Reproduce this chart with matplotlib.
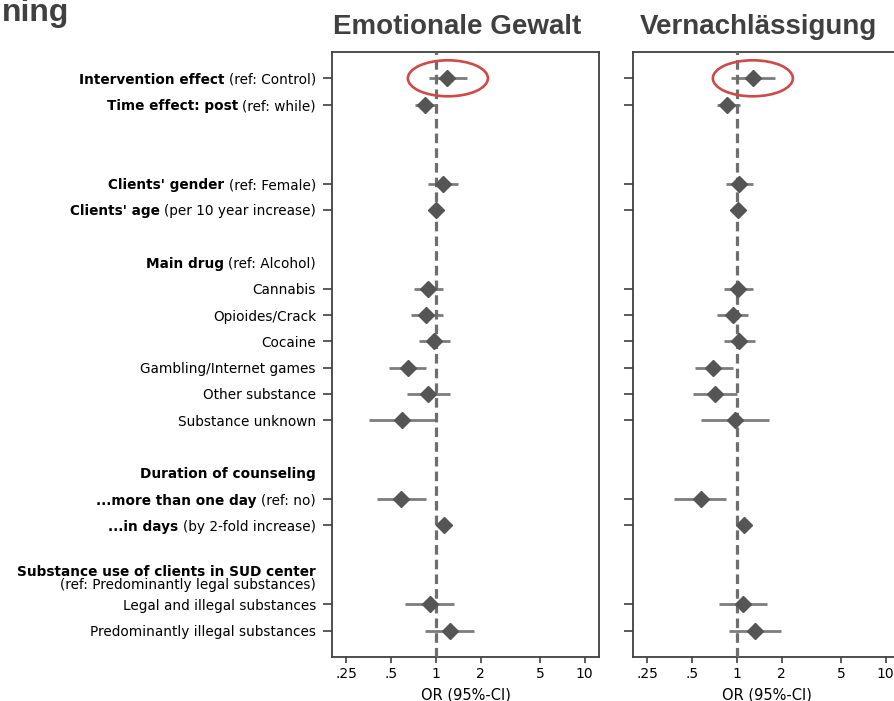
import matplotlib
matplotlib.use("Agg")
import matplotlib.pyplot as plt
from matplotlib.patches import Ellipse
from matplotlib.transforms import IdentityTransform

plt.rcParams['font.family'] = ['DejaVu Sans']

# row labels: bold part + normal part (one entry per row, "" = empty row)
label_bold = ["Intervention effect", "Time effect: post", "", "",
              "Clients' gender", "Clients' age", "",
              "Main drug", "", "", "", "", "", "", "",
              "Duration of counseling", "...more than one day", "...in days", "",
              "Substance use of clients in SUD center", "", ""]
label_rest = ["(ref: Control)", "(ref: while)", "", "",
              "(ref: Female)", "(per 10 year increase)", "",
              "(ref: Alcohol)", "Cannabis", "Opioides/Crack", "Cocaine",
              "Gambling/Internet games", "Other substance", "Substance unknown", "",
              "", "(ref: no)", "(by 2-fold increase)", "",
              "\n(ref: Predominantly legal substances)",
              "Legal and illegal substances", "Predominantly illegal substances"]

# rows that carry an estimate
est_rows = [0, 1, 4, 5, 8, 9, 10, 11, 12, 13, 16, 17, 20, 21]

# Emotionale Gewalt
emo_or = [1.18, 0.84, 1.11, 1.00, 0.88, 0.86, 0.97, 0.65, 0.88, 0.59, 0.58, 1.13, 0.91, 1.24]
emo_lo = [0.90, 0.72, 0.88, 0.97, 0.71, 0.68, 0.77, 0.48, 0.64, 0.355, 0.40, 1.06, 0.62, 0.84]
emo_hi = [1.61, 1.01, 1.40, 1.03, 1.11, 1.11, 1.24, 0.86, 1.24, 1.00, 0.86, 1.20, 1.32, 1.80]

# Vernachlaessigung
neg_or = [1.28, 0.86, 1.03, 1.02, 1.02, 0.94, 1.03, 0.69, 0.71, 0.97, 0.57, 1.11, 1.10, 1.32]
neg_lo = [0.91, 0.73, 0.84, 0.98, 0.82, 0.73, 0.82, 0.52, 0.51, 0.57, 0.38, 1.05, 0.76, 0.88]
neg_hi = [1.80, 1.05, 1.28, 1.06, 1.28, 1.19, 1.32, 0.94, 1.00, 1.64, 0.84, 1.18, 1.59, 1.97]

panel_titles = ["Emotionale Gewalt", "Vernachlässigung"]
xticks = [0.25, 0.5, 1, 2, 5, 10]
xticklabels = [".25", ".5", "1", "2", "5", "10"]

W, H = 894, 701
fig = plt.figure(figsize=(W / 100, H / 100), dpi=100)
ax1 = fig.add_axes([332 / W, 44 / H, 267 / W, 605 / H])
ax2 = fig.add_axes([633 / W, 44 / H, 267 / W, 605 / H])

dark = '#404040'


def forest(ax, est, lo, hi, title):
    ax.set_xscale('log')
    ax.set_xlim(0.2, 12.5)
    ax.set_ylim(22, -1)
    ax.hlines(est_rows, lo, hi, color='#7c7c7c', lw=2.0, zorder=2)
    ax.axvline(1, color='#6e6e6e', lw=2.3, ls=(0, (3, 1.6)), zorder=3)
    ax.plot(est, est_rows, ls='none', marker='D', ms=8, color='#555555', zorder=4)
    ax.set_xticks(xticks)
    ax.set_xticklabels(xticklabels)
    ax.xaxis.set_minor_locator(matplotlib.ticker.NullLocator())
    ax.set_yticks(est_rows)
    ax.set_yticklabels([])
    ax.tick_params(axis='x', length=4, width=1.2, color=dark, labelsize=10, pad=3)
    ax.tick_params(axis='y', length=6.5, width=1.2, color=dark)
    ax.set_xlabel("OR (95%-CI)", fontsize=10.5, labelpad=5)
    for s in ax.spines.values():
        s.set_color(dark)
        s.set_linewidth(1.3)
    ax.text(0.47, 1 + 25 / 605, title, transform=ax.transAxes, ha='center',
            va='center', fontsize=20, weight='bold', color=dark,
            family='Liberation Sans')


forest(ax1, emo_or, emo_lo, emo_hi, panel_titles[0])
forest(ax2, neg_or, neg_lo, neg_hi, panel_titles[1])

# partial slide heading at top-left
fig.text(69 / W, 1 - 21 / H, "ning", ha='right', va='baseline', fontsize=23,
         weight='bold', color=dark, family='Liberation Sans')

# row labels with mixed bold / normal
renderer = fig.canvas.get_renderer()
fs = 9.8
gap = 16
for row, (b, r) in enumerate(zip(label_bold, label_rest)):
    if r.startswith("\n"):
        ax1.annotate(b, xy=(0, row - 0.3), xycoords=('axes fraction', 'data'),
                     xytext=(-gap, 0), textcoords='offset pixels', ha='right',
                     va='center_baseline', fontsize=fs, weight='bold')
        ax1.annotate(r.strip(), xy=(0, row + 0.2), xycoords=('axes fraction', 'data'),
                     xytext=(-gap, 0), textcoords='offset pixels', ha='right',
                     va='center_baseline', fontsize=fs)
        continue
    w = 0
    if r:
        t = ax1.annotate(r, xy=(0, row), xycoords=('axes fraction', 'data'),
                         xytext=(-gap, 0), textcoords='offset pixels', ha='right',
                         va='center_baseline', fontsize=fs)
        w = t.get_window_extent(renderer).width + 4.5
    if b:
        ax1.annotate(b, xy=(0, row), xycoords=('axes fraction', 'data'),
                     xytext=(-gap - w, 0), textcoords='offset pixels', ha='right',
                     va='center_baseline', fontsize=fs, weight='bold')

# red ellipses around the intervention effect
for ax, lo, hi in [(ax1, emo_lo, emo_hi), (ax2, neg_lo, neg_hi)]:
    mid = (lo[0] * hi[0]) ** 0.5
    cx, cy = ax.transData.transform((mid, est_rows[0]))
    e = Ellipse((cx, cy), 80, 36, transform=IdentityTransform(), fill=False,
                edgecolor='#d04848', lw=1.9, clip_on=False)
    fig.add_artist(e)

fig.savefig("out.png", dpi=100)
